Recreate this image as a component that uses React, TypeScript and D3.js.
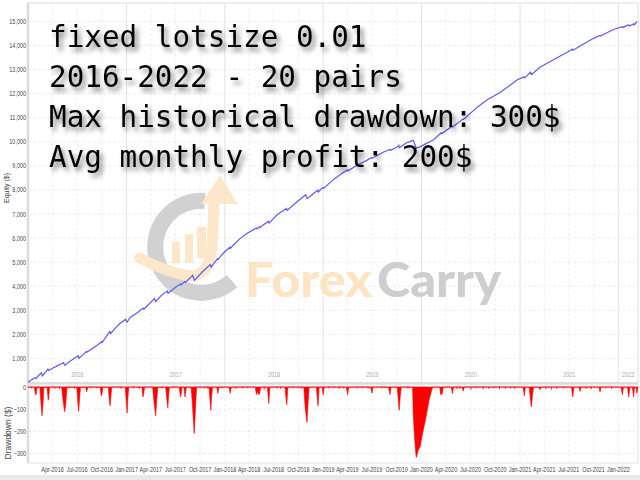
import React from "react";
import * as d3 from "d3";

const startDate = "2016-01-01";
const endDate = "2022-03-15";

const equity: [string, number][] = [
  ["2016-01-01", 0], ["2016-01-12", 90], ["2016-01-27", 200], ["2016-01-31", 170],
  ["2016-02-10", 300], ["2016-02-20", 400], ["2016-02-23", 275], ["2016-03-05", 420],
  ["2016-03-15", 560], ["2016-03-18", 500], ["2016-04-01", 590], ["2016-04-20", 700],
  ["2016-05-12", 820], ["2016-05-17", 710], ["2016-06-01", 850], ["2016-06-20", 1000],
  ["2016-07-05", 1110], ["2016-07-08", 1000], ["2016-07-25", 1180], ["2016-08-05", 1290],
  ["2016-08-08", 1270], ["2016-08-25", 1400], ["2016-09-15", 1560], ["2016-09-30", 1700],
  ["2016-10-02", 1660], ["2016-10-20", 1950], ["2016-10-31", 2120], ["2016-11-03", 2035],
  ["2016-11-20", 2260], ["2016-12-08", 2460], ["2016-12-28", 2620], ["2017-01-03", 2505],
  ["2017-01-14", 2700], ["2017-02-10", 2900], ["2017-03-03", 3090], ["2017-03-06", 3045],
  ["2017-04-15", 3490], ["2017-04-19", 3360], ["2017-05-10", 3620], ["2017-06-01", 3800],
  ["2017-06-04", 3705], ["2017-07-01", 3950], ["2017-07-20", 4100], ["2017-07-22", 4055],
  ["2017-08-05", 4200], ["2017-08-07", 4155], ["2017-09-04", 4450], ["2017-09-10", 4240],
  ["2017-10-10", 4600], ["2017-11-08", 4900], ["2017-11-11", 4795], ["2017-11-25", 5000],
  ["2017-12-05", 5150], ["2017-12-07", 5120], ["2017-12-25", 5360], ["2018-01-20", 5620],
  ["2018-01-22", 5590], ["2018-02-27", 5990], ["2018-03-25", 6200], ["2018-04-28", 6420],
  ["2018-04-30", 6385], ["2018-05-09", 6470], ["2018-05-11", 6435], ["2018-05-22", 6530],
  ["2018-06-12", 6700], ["2018-06-14", 6625], ["2018-07-15", 6980], ["2018-08-18", 7230],
  ["2018-08-20", 7150], ["2018-09-20", 7450], ["2018-10-28", 7800], ["2018-11-03", 7640],
  ["2018-11-15", 7750], ["2018-12-12", 8000], ["2018-12-14", 7915], ["2018-12-30", 8100],
  ["2019-01-02", 8065], ["2019-02-10", 8450], ["2019-03-14", 8700], ["2019-04-01", 8830],
  ["2019-04-03", 8795], ["2019-05-10", 9050], ["2019-06-12", 9230], ["2019-06-30", 9350],
  ["2019-07-02", 9320], ["2019-08-10", 9560], ["2019-09-05", 9680], ["2019-09-07", 9645],
  ["2019-10-02", 9770], ["2019-10-09", 9860], ["2019-10-11", 9755], ["2019-11-05", 9950],
  ["2019-12-01", 10060], ["2019-12-13", 9745], ["2019-12-27", 9790], ["2020-01-18", 9925],
  ["2020-02-08", 10045], ["2020-02-14", 10080], ["2020-03-15", 10380], ["2020-03-17", 10345],
  ["2020-04-24", 10650], ["2020-04-26", 10620], ["2020-06-03", 10950], ["2020-06-05", 10930],
  ["2020-07-25", 11430], ["2020-09-01", 11750], ["2020-10-19", 12050], ["2020-11-25", 12350],
  ["2020-12-22", 12580], ["2021-01-16", 12700], ["2021-01-18", 12660], ["2021-02-09", 12890],
  ["2021-02-13", 12800], ["2021-03-16", 13100], ["2021-04-25", 13350], ["2021-06-01", 13580],
  ["2021-06-25", 13720], ["2021-07-15", 13850], ["2021-07-17", 13805], ["2021-08-12", 13980],
  ["2021-10-01", 14300], ["2021-10-24", 14420], ["2021-10-26", 14400], ["2021-12-14", 14670],
  ["2022-01-15", 14780], ["2022-01-17", 14745], ["2022-02-03", 14840], ["2022-02-09", 14860],
  ["2022-02-11", 14815], ["2022-02-27", 14900], ["2022-03-01", 14860], ["2022-03-12", 15010],
];

const drawdown: [string, number][] = [
  ["2016-01-01", 0],
  ["2016-01-25", 0], ["2016-01-28", -30], ["2016-01-31", -36], ["2016-02-03", 0],
  ["2016-02-14", 0], ["2016-02-18", -70], ["2016-02-22", -130], ["2016-02-25", -90], ["2016-02-29", 0],
  ["2016-03-12", 0], ["2016-03-16", -60], ["2016-03-18", -50], ["2016-03-21", 0],
  ["2016-05-05", 0], ["2016-05-10", -60], ["2016-05-16", -112], ["2016-05-20", -80], ["2016-05-25", 0],
  ["2016-06-30", 0], ["2016-07-04", -70], ["2016-07-07", -110], ["2016-07-10", -60], ["2016-07-14", 0],
  ["2016-08-02", 0], ["2016-08-06", -22], ["2016-08-10", 0],
  ["2016-09-25", 0], ["2016-09-29", -40], ["2016-10-02", -30], ["2016-10-05", 0],
  ["2016-10-25", 0], ["2016-10-29", -60], ["2016-11-01", -85], ["2016-11-04", -40], ["2016-11-07", 0],
  ["2016-12-27", 0], ["2016-12-31", -70], ["2017-01-03", -118], ["2017-01-06", -50], ["2017-01-09", 0],
  ["2017-02-27", 0], ["2017-03-03", -45], ["2017-03-05", -35], ["2017-03-09", 0],
  ["2017-04-08", 0], ["2017-04-13", -70], ["2017-04-19", -130], ["2017-04-23", -60], ["2017-04-27", 0],
  ["2017-05-26", 0], ["2017-05-30", -50], ["2017-06-03", -95], ["2017-06-06", -40], ["2017-06-09", 0],
  ["2017-07-16", 0], ["2017-07-20", -45], ["2017-07-23", -30], ["2017-07-26", 0],
  ["2017-08-02", 0], ["2017-08-06", -45], ["2017-08-08", -30], ["2017-08-11", 0],
  ["2017-08-29", 0], ["2017-09-03", -90], ["2017-09-09", -210], ["2017-09-13", -120], ["2017-09-18", 0],
  ["2017-11-03", 0], ["2017-11-07", -60], ["2017-11-10", -105], ["2017-11-13", -40], ["2017-11-16", 0],
  ["2017-12-02", 0], ["2017-12-06", -28], ["2017-12-10", 0],
  ["2018-01-16", 0], ["2018-01-21", -28], ["2018-01-25", 0],
  ["2018-04-24", 0], ["2018-04-28", -35], ["2018-05-01", -20], ["2018-05-07", -35], ["2018-05-10", -30], ["2018-05-14", 0],
  ["2018-06-08", 0], ["2018-06-13", -75], ["2018-06-17", 0],
  ["2018-08-12", 0], ["2018-08-16", -50], ["2018-08-19", -80], ["2018-08-23", 0],
  ["2018-10-21", 0], ["2018-10-26", -90], ["2018-10-30", -130], ["2018-11-02", -160], ["2018-11-06", -70], ["2018-11-10", 0],
  ["2018-12-07", 0], ["2018-12-10", -50], ["2018-12-13", -85], ["2018-12-17", 0],
  ["2018-12-28", 0], ["2019-01-01", -35], ["2019-01-05", 0],
  ["2019-03-28", 0], ["2019-04-02", -35], ["2019-04-06", 0],
  ["2019-06-26", 0], ["2019-07-01", -28], ["2019-07-05", 0],
  ["2019-09-01", 0], ["2019-09-06", -35], ["2019-09-10", 0],
  ["2019-10-03", 0], ["2019-10-07", -60], ["2019-10-10", -105], ["2019-10-14", -45], ["2019-10-18", 0],
  ["2019-11-29", 0], ["2019-12-01", -110], ["2019-12-05", -200], ["2019-12-10", -290], ["2019-12-13", -318],
  ["2019-12-20", -285], ["2019-12-27", -270], ["2020-01-05", -210], ["2020-01-18", -135], ["2020-01-29", -60],
  ["2020-02-08", -15], ["2020-02-12", 0],
  ["2020-03-09", 0], ["2020-03-12", -35], ["2020-03-18", -30], ["2020-03-22", 0],
  ["2020-04-21", 0], ["2020-04-25", -30], ["2020-04-29", 0],
  ["2020-05-30", 0], ["2020-06-04", -18], ["2020-06-08", 0],
  ["2021-01-12", 0], ["2021-01-17", -40], ["2021-01-21", 0],
  ["2021-02-04", 0], ["2021-02-08", -50], ["2021-02-12", -90], ["2021-02-16", -40], ["2021-02-20", 0],
  ["2021-03-12", 0], ["2021-03-16", -12], ["2021-03-20", 0],
  ["2021-07-11", 0], ["2021-07-16", -45], ["2021-07-20", 0],
  ["2021-08-08", 0], ["2021-08-12", -20], ["2021-08-16", 0],
  ["2021-10-21", 0], ["2021-10-25", -22], ["2021-10-29", 0],
  ["2022-01-11", 0], ["2022-01-16", -35], ["2022-01-20", 0],
  ["2022-02-04", 0], ["2022-02-09", -45], ["2022-02-13", 0],
  ["2022-02-22", 0], ["2022-02-27", -45], ["2022-03-02", 0],
  ["2022-03-07", 0], ["2022-03-11", -28], ["2022-03-15", 0],
];

const minorDrawdown: [string, number][] = [
  ["2016-01-12", -6], ["2016-02-05", -8], ["2016-03-05", -5], ["2016-04-08", -7], ["2016-04-25", -10],
  ["2016-06-02", -6], ["2016-06-20", -8], ["2016-08-20", -6], ["2016-09-10", -5], ["2016-12-10", -8],
  ["2017-01-25", -6], ["2017-02-15", -8], ["2017-05-10", -6], ["2017-06-20", -5], ["2017-08-25", -7],
  ["2017-10-15", -6], ["2017-10-28", -8], ["2017-12-20", -5], ["2018-02-10", -8], ["2018-03-05", -6],
  ["2018-03-25", -5], ["2018-05-25", -12], ["2018-07-10", -6], ["2018-07-25", -8], ["2018-09-10", -6],
  ["2018-09-28", -5], ["2018-10-10", -8], ["2019-01-20", -6], ["2019-02-10", -5], ["2019-02-28", -8],
  ["2019-03-15", -6], ["2019-05-05", -7], ["2019-05-25", -5], ["2019-06-15", -8], ["2019-08-05", -6],
  ["2019-08-20", -5], ["2019-11-10", -8], ["2020-05-10", -10], ["2020-05-20", -8], ["2020-07-01", -12],
  ["2020-07-20", -6], ["2020-08-15", -10], ["2020-09-05", -8], ["2020-09-25", -6], ["2020-10-15", -10],
  ["2020-11-05", -8], ["2020-11-25", -6], ["2020-12-10", -8], ["2021-04-05", -10], ["2021-04-25", -12],
  ["2021-05-15", -8], ["2021-06-10", -6], ["2021-09-01", -8], ["2021-09-20", -10], ["2021-11-15", -6],
  ["2021-12-05", -8],
];

const equityTicks = [1000, 2000, 3000, 4000, 5000, 6000, 7000, 8000, 9000, 10000, 11000, 12000, 13000, 14000, 15000];
const drawdownTicks = [0, -100, -200, -300];
const years = [2016, 2017, 2018, 2019, 2020, 2021, 2022];
const textLines = [
  "fixed lotsize 0.01",
  "2016-2022 - 20 pairs",
  "Max historical drawdown: 300$",
  "Avg monthly profit: 200$",
];
const brandLeft = "Forex";
const brandRight = "Carry";

const parse = d3.timeParse("%Y-%m-%d") as (s: string) => Date;

export default function App() {
  const L = 28, R = 638, T = 3, TB = 384, DB = 463;
  const x = d3.scaleTime().domain([parse(startDate), parse(endDate)]).range([L, R]);
  const yEq = d3.scaleLinear().domain([0, 15000]).range([382.5, 21.5]);
  const yDD = d3.scaleLinear().domain([0, -300]).range([387, 453.5]);

  const eqData = equity.map(([d, v]) => ({ d: parse(d), v }));
  const ddData = drawdown.map(([d, v]) => ({ d: parse(d), v }));
  const minorData = minorDrawdown.map(([d, v]) => ({ d: parse(d), v }));

  const line = d3.line<{ d: Date; v: number }>().x((p) => x(p.d)).y((p) => yEq(p.v));
  const area = d3.area<{ d: Date; v: number }>().x((p) => x(p.d)).y0(yDD(0)).y1((p) => yDD(p.v));

  const quarters = x.ticks(d3.timeMonth.every(3) as any);
  const fmt = d3.timeFormat("%b-%Y");
  const yearStarts = years.map((y) => new Date(y, 0, 1));
  const dEnd = parse(endDate);

  const tickFont = "'Liberation Sans', Arial, sans-serif";

  return (
    <div style={{ position: "fixed", left: 0, top: 0, width: 640, height: 480, background: "#fff" }}>
      <svg width={640} height={480} style={{ display: "block" }}>
        <defs>
          <filter id="tshadow" x="-10%" y="-40%" width="130%" height="200%">
            <feDropShadow dx="3" dy="4" stdDeviation="2.4" floodColor="#000" floodOpacity="0.5" />
          </filter>
          <clipPath id="topclip"><rect x={L} y={T} width={R - L} height={TB - T} /></clipPath>
          <clipPath id="ddclip"><rect x={L} y={TB} width={R - L} height={DB - TB} /></clipPath>
        </defs>
        <rect x={0} y={0} width={640} height={480} fill="#fff" />
        <rect x={0} y={475} width={640} height={5} fill="#e9e9e9" />

        {/* top panel grid */}
        {equityTicks.map((t) => (
          <line key={"hg" + t} x1={L} x2={R} y1={yEq(t)} y2={yEq(t)} stroke="#e8e8e8" strokeWidth={0.8} strokeDasharray="3,2" />
        ))}
        {quarters.map((q, i) => {
          const isYear = q.getMonth() === 0;
          return (
            <line key={"vg" + i} x1={x(q)} x2={x(q)} y1={T} y2={TB} stroke={isYear ? "#e2e2e2" : "#ececec"} strokeWidth={isYear ? 1 : 0.8} strokeDasharray={isYear ? undefined : "3,2"} />
          );
        })}
        {/* drawdown grid */}
        {drawdownTicks.slice(1).map((t) => (
          <line key={"dg" + t} x1={L} x2={R} y1={yDD(t)} y2={yDD(t)} stroke="#e6e6e6" strokeWidth={0.8} strokeDasharray="3,2" />
        ))}
        {quarters.map((q, i) => (
          <line key={"dvg" + i} x1={x(q)} x2={x(q)} y1={TB} y2={DB} stroke="#ececec" strokeWidth={0.8} strokeDasharray="3,2" />
        ))}

        {/* frames */}
        <rect x={L} y={T} width={R - L} height={TB - T} fill="none" stroke="#dedede" strokeWidth={1} />
        <rect x={L} y={TB} width={R - L} height={DB - TB} fill="none" stroke="#e2e2e2" strokeWidth={1} />
        <line x1={L} x2={L} y1={T} y2={DB} stroke="#dcdcdc" strokeWidth={2.5} />
        <line x1={L} x2={R} y1={TB - 1} y2={TB - 1} stroke="#dcdcdc" strokeWidth={2} />

        {/* year labels in band */}
        {yearStarts.map((ys, i) => {
          const s = x(ys < x.domain()[0] ? x.domain()[0] : ys);
          const nextDate = i + 1 < yearStarts.length ? yearStarts[i + 1] : dEnd;
          const e = x(nextDate > dEnd ? dEnd : nextDate);
          return (
            <g key={"yl" + i} transform={`translate(${(s + e) / 2},${377}) scale(0.78,1)`}>
              <text textAnchor="middle" fontFamily={tickFont} fontSize={7} fill="#aaa">{years[i]}</text>
            </g>
          );
        })}

        {/* watermark */}
        <g opacity={0.95}>
          <path d="M 205 201 A 46 46 0 1 0 232 281" fill="none" stroke="#cfcfcf" strokeWidth={16} />
          <path d="M 140 258 Q 165 272 190 276 Q 210 276 212 245 L 214 205" fill="none" stroke="#fce6c8" strokeWidth={11} strokeLinecap="round" />
          <path d="M 201 204 L 220 175 L 238 204 Z" fill="#fce6c8" />
          <rect x={172} y={242} width={8} height={21} fill="#fce6c8" />
          <rect x={185} y={234} width={8} height={29} fill="#fce6c8" />
          <rect x={197} y={227} width={9} height={31} fill="#fce6c8" />
          <text x={245} y={297} fontFamily="Lato, 'Open Sans', sans-serif" fontWeight={900} fontSize={47} fill="#fde3c0" textLength={127} lengthAdjust="spacingAndGlyphs">{brandLeft}</text>
          <text x={377} y={297} fontFamily="Lato, 'Open Sans', sans-serif" fontWeight={900} fontSize={47} fill="#cccccc" textLength={124} lengthAdjust="spacingAndGlyphs">{brandRight}</text>
        </g>

        {/* equity line */}
        <g clipPath="url(#topclip)">
          <path d={line(eqData) || ""} fill="none" stroke="#5b5bf0" strokeWidth={1.2} />
        </g>

        {/* drawdown */}
        <g clipPath="url(#ddclip)">
          <line x1={L} x2={R} y1={yDD(0) + 0.5} y2={yDD(0) + 0.5} stroke="#f7b0b0" strokeWidth={1.5} />
          {minorData.map((p, i) => (
            <rect key={"md" + i} x={x(p.d)} y={yDD(0)} width={1} height={yDD(p.v) - yDD(0)} fill="#ff2020" />
          ))}
          <path d={area(ddData) || ""} fill="#ff0000" stroke="#ff0000" strokeWidth={0.6} />
        </g>

        {/* y axis labels */}
        {equityTicks.map((t) => (
          <g key={"yt" + t} transform={`translate(26,${yEq(t) + 2.5}) scale(0.78,1)`}>
            <text textAnchor="end" fontFamily={tickFont} fontSize={7} fill="#444">{d3.format(",")(t)}</text>
          </g>
        ))}
        {drawdownTicks.map((t) => (
          <g key={"dt" + t} transform={`translate(26,${yDD(t) + 2.5}) scale(0.78,1)`}>
            <text textAnchor="end" fontFamily={tickFont} fontSize={7} fill="#444">{t === 0 ? "0" : d3.format(",")(t)}</text>
          </g>
        ))}
        <text transform={`translate(9,188) rotate(-90)`} textAnchor="middle" fontFamily={tickFont} fontSize={7} fill="#444">Equity ($)</text>
        <text transform={`translate(11,433) rotate(-90)`} textAnchor="middle" fontFamily={tickFont} fontSize={8.5} fill="#444">Drawdown ($)</text>

        {/* x axis labels */}
        {quarters.filter((q) => q > x.domain()[0]).map((q, i) => (
          <g key={"xt" + i} transform={`translate(${x(q)},${472}) scale(0.78,1)`}>
            <text textAnchor="middle" fontFamily={tickFont} fontSize={7} fill="#444">{fmt(q)}</text>
          </g>
        ))}

        {/* overlay text */}
        <g filter="url(#tshadow)">
          {textLines.map((t, i) => (
            <text key={"tl" + i} x={49} y={47 + i * 40} fontFamily="'DejaVu Sans Mono', monospace" fontSize={29.3} fill="#000" style={{ whiteSpace: "pre" }}>{t}</text>
          ))}
        </g>
      </svg>
    </div>
  );
}
